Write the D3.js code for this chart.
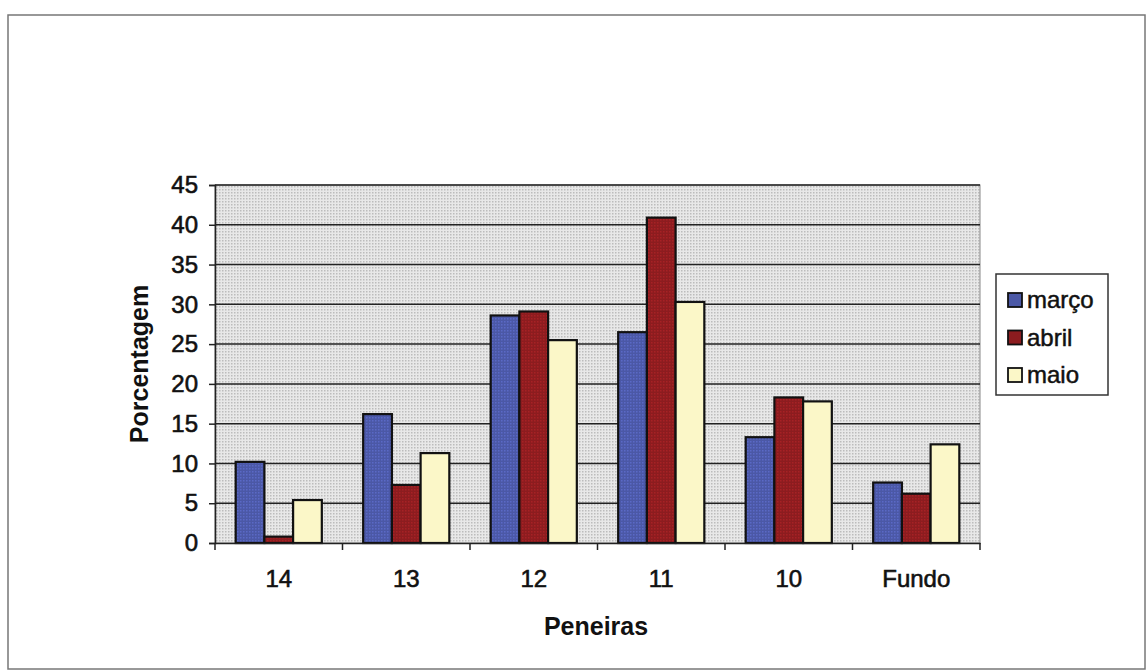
<!DOCTYPE html>
<html><head><meta charset="utf-8">
<script src="https://cdn.jsdelivr.net/npm/d3@7"></script>
<style>body{margin:0;background:#fff;}svg{display:block;font-family:"Liberation Sans",Arial,sans-serif;}</style>
</head><body>
<svg id="c" width="1148" height="671"></svg>
<script>
const categories = ["14","13","12","11","10","Fundo"];
const seriesNames = ["março","abril","maio"];
const marco = [10.2, 16.2, 28.6, 26.5, 13.3, 7.6];
const abril = [0.8, 7.3, 29.1, 40.9, 18.3, 6.2];
const maio = [5.4, 11.3, 25.5, 30.3, 17.8, 12.4];
const yTicks = [0,5,10,15,20,25,30,35,40,45];
const colors = ["#4b58a6","#8c1c1f","#fbf7c8"];
const seriesValues = [marco, abril, maio];

(function(){
const svg = d3.select("#c");
const defs = svg.append("defs");
const pBg = defs.append("pattern").attr("id","bgpat").attr("width",3).attr("height",3).attr("patternUnits","userSpaceOnUse");
pBg.append("rect").attr("width",3).attr("height",3).attr("fill","#e8e8e8");
pBg.append("rect").attr("width",1.5).attr("height",1.5).attr("fill","#bcbcbc");
colors.forEach((c,i)=>{
  const p = defs.append("pattern").attr("id","bp"+i).attr("width",3).attr("height",3).attr("patternUnits","userSpaceOnUse");
  p.append("rect").attr("width",3).attr("height",3).attr("fill",c);
  if(i<2) p.append("rect").attr("width",1.5).attr("height",1.5).attr("fill",d3.color(c).brighter(0.5));
});

svg.append("rect").attr("x",8).attr("y",15).attr("width",1137).attr("height",654)
  .attr("fill","#fff").attr("stroke","#777").attr("stroke-width",1.5);

const pl=215, pr=980, pt=185, pb=543;
const x = d3.scaleBand().domain(categories).range([pl,pr]).paddingInner(0).paddingOuter(0);
const y = d3.scaleLinear().domain([0,45]).range([pb,pt]);
const xs = d3.scaleBand().domain(d3.range(3)).range([0,x.bandwidth()]).paddingInner(0).paddingOuter(0.72);

svg.append("rect").attr("x",pl).attr("y",pt).attr("width",pr-pl).attr("height",pb-pt)
  .attr("fill","url(#bgpat)").attr("stroke","#888").attr("stroke-width",1);

svg.append("g").selectAll("line").data(yTicks.filter(d=>d>0)).join("line")
  .attr("x1",pl).attr("x2",pr).attr("y1",d=>y(d)).attr("y2",d=>y(d))
  .attr("stroke","#222").attr("stroke-width",1.5);

const g = svg.append("g");
categories.forEach((cat,ci)=>{
  seriesValues.forEach((vals,si)=>{
    g.append("rect")
      .attr("x",x(cat)+xs(si)).attr("y",y(vals[ci]))
      .attr("width",xs.bandwidth()).attr("height",y(0)-y(vals[ci]))
      .attr("fill","url(#bp"+si+")").attr("stroke","#111").attr("stroke-width",2.2);
  });
});

const ya = svg.append("g").attr("transform",`translate(${pl},0)`)
  .call(d3.axisLeft(y).tickValues(yTicks).tickSize(6).tickPadding(11));
ya.select(".domain").attr("stroke","#222").attr("stroke-width",1.5);
ya.selectAll(".tick line").attr("stroke","#222").attr("stroke-width",1.5);
ya.selectAll("text").attr("font-size",24).attr("fill","#111").attr("stroke","#111").attr("stroke-width",0.6)
  .attr("font-family","Liberation Sans, Arial, sans-serif");

const xa = svg.append("g").attr("transform",`translate(0,${pb})`)
  .call(d3.axisBottom(x).tickSize(0).tickPadding(27));
xa.select(".domain").attr("stroke","#222").attr("stroke-width",1.5);
xa.selectAll("text").attr("font-size",24).attr("fill","#111").attr("stroke","#111").attr("stroke-width",0.6)
  .attr("font-family","Liberation Sans, Arial, sans-serif");
svg.append("g").selectAll("line").data(d3.range(categories.length+1)).join("line")
  .attr("x1",i=>pl+i*x.bandwidth()).attr("x2",i=>pl+i*x.bandwidth())
  .attr("y1",pb).attr("y2",pb+7).attr("stroke","#222").attr("stroke-width",1.5);

svg.append("text").attr("x",596).attr("y",635).attr("text-anchor","middle")
  .attr("font-size",25).attr("font-weight","bold").attr("fill","#111").text("Peneiras");
svg.append("text").attr("transform",`translate(148,${(pt+pb)/2}) rotate(-90)`).attr("text-anchor","middle")
  .attr("font-size",25).attr("font-weight","bold").attr("fill","#111").text("Porcentagem");

const lg = svg.append("g");
lg.append("rect").attr("x",996).attr("y",274).attr("width",112).attr("height",121)
  .attr("fill","#fff").attr("stroke","#333").attr("stroke-width",1.5);
seriesNames.forEach((n,i)=>{
  const yy = 300 + i*37.5;
  lg.append("rect").attr("x",1008).attr("y",yy-7).attr("width",14).attr("height",14)
    .attr("fill",colors[i]).attr("stroke","#111").attr("stroke-width",1.8);
  lg.append("text").attr("x",1027).attr("y",yy+8).attr("font-size",24).attr("fill","#111")
    .attr("stroke","#111").attr("stroke-width",0.5).text(n);
});
})();
</script>
</body></html>
